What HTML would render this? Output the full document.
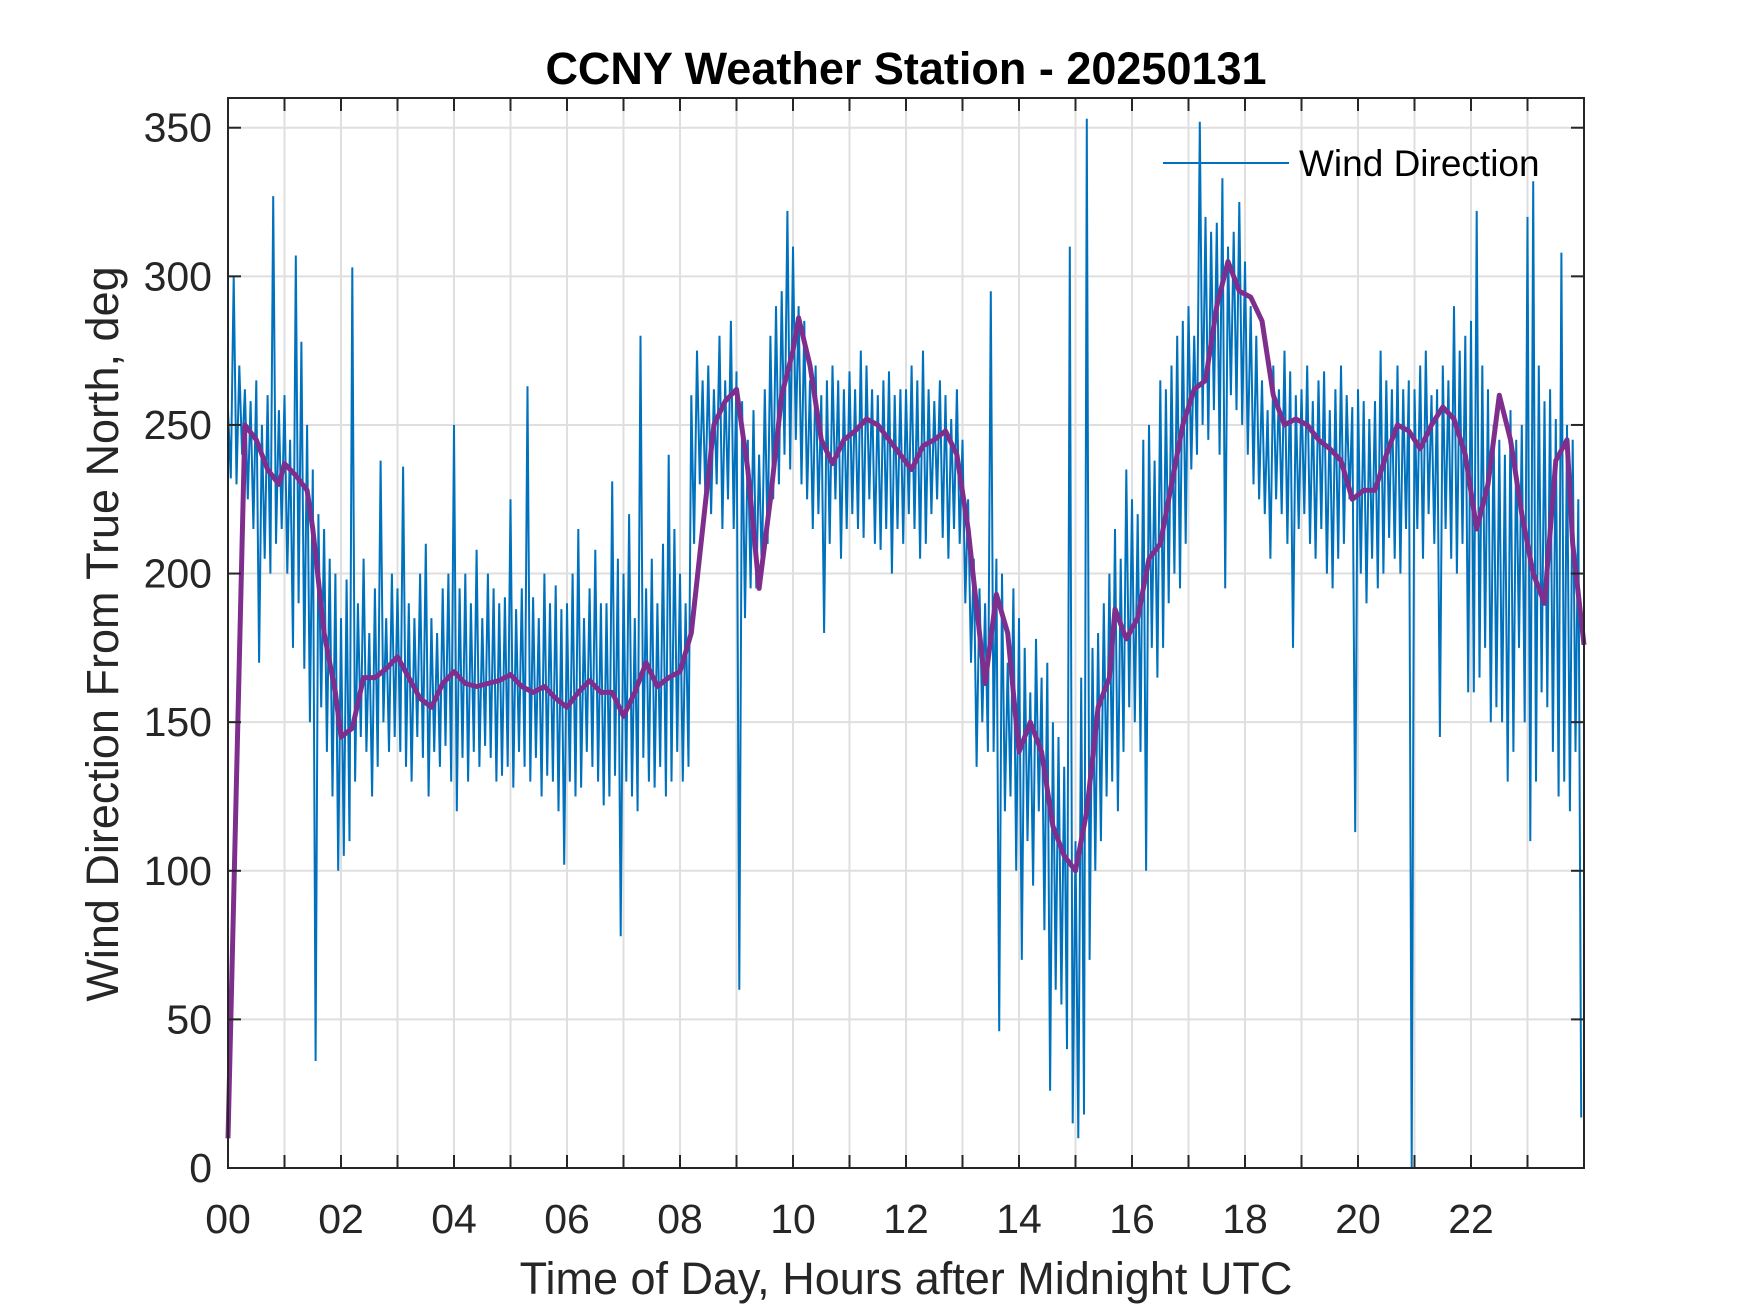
<!DOCTYPE html>
<html><head><meta charset="utf-8"><style>
html,body{margin:0;padding:0;background:#fff;}
svg{display:block;font-family:"Liberation Sans",Arial,sans-serif;}
</style></head><body>
<svg id="chart" width="1750" height="1313" viewBox="0 0 1750 1313" xmlns="http://www.w3.org/2000/svg">
<rect x="0" y="0" width="1750" height="1313" fill="#fff"/>
<g id="grid"></g>
<g id="series"></g>
<rect x="228" y="98" width="1356" height="1070" fill="none" stroke="#262626" stroke-width="2"/>
<g id="ticks"></g>
<text x="906" y="84" text-anchor="middle" font-size="45" font-weight="bold" fill="#000">CCNY Weather Station - 20250131</text>
<text x="906" y="1294" text-anchor="middle" font-size="45" fill="#262626">Time of Day, Hours after Midnight UTC</text>
<text transform="translate(118,634) rotate(-90)" text-anchor="middle" font-size="45" fill="#262626">Wind Direction From True North, deg</text>
<g>
<line x1="1163" y1="163" x2="1289" y2="163" stroke="#0072BD" stroke-width="2"/>
<text x="1299" y="176" font-size="37" fill="#000">Wind Direction</text>
</g>
</svg>
<script>
const blueHi=[255,300,270,262,258,265,250,260,327,255,
260,245,307,278,250,235,220,215,205,200,
185,198,303,190,205,180,195,238,185,200,
195,236,190,185,200,210,185,180,195,200,
250,195,200,190,208,185,200,195,190,192,
225,188,195,263,192,185,200,190,196,188,
190,200,215,185,195,208,190,190,231,205,
200,220,185,280,195,205,190,210,240,215,
200,190,260,275,265,270,262,280,265,285,
268,258,245,255,240,262,280,290,295,322,
310,290,285,265,270,260,265,270,265,262,
268,262,275,270,262,260,265,268,260,262,
262,270,265,275,262,258,265,260,252,262,
245,225,205,195,190,295,205,200,170,195,
185,175,160,178,165,170,150,145,135,310,
110,165,353,175,180,190,200,215,205,235,
225,220,245,250,238,265,262,270,280,285,
290,280,352,320,315,318,333,310,315,325,
305,290,280,265,255,270,262,275,268,260,
262,270,258,265,268,255,262,270,260,256,
262,258,252,258,275,265,262,270,262,265,
262,270,275,260,262,270,265,290,275,280,
285,322,270,262,250,245,240,255,245,250,
320,332,270,258,262,252,308,250,245,225];
const blueLo=[232,230,240,225,215,170,205,200,210,215,
200,175,190,168,150,36,155,140,125,100,
105,110,130,145,140,125,135,150,140,145,
140,135,130,145,138,125,140,135,142,130,
120,138,130,140,135,142,138,130,132,135,
128,140,135,130,138,125,132,130,120,102,
130,125,128,140,135,130,122,125,132,78,
130,125,120,138,130,128,135,125,130,140,
130,135,210,230,225,220,230,215,225,215,
60,185,195,195,200,210,225,230,240,235,
245,230,225,215,220,180,210,225,205,215,
220,215,212,225,210,208,215,200,215,210,
220,215,205,210,220,225,212,205,215,210,
190,170,135,150,140,140,46,120,125,100,
70,110,95,120,80,26,60,55,40,15,
10,18,70,100,110,125,130,120,140,155,
150,140,100,175,165,175,190,200,195,210,
235,240,250,245,255,240,195,260,255,250,
240,230,225,220,205,225,220,210,175,215,
220,210,205,215,200,195,205,210,225,113,
200,190,205,195,200,212,205,200,215,0,
215,205,220,210,145,215,205,200,210,160,
160,165,175,150,155,150,130,140,175,150,
110,130,160,155,140,125,130,120,140,17];
const meanHours=[0,0.3,0.5,0.7,0.9,1.0,1.2,1.4,1.5,1.7,1.9,2.0,2.2,2.4,2.6,2.8,3.0,3.2,3.4,3.6,3.8,4.0,4.2,4.4,4.6,4.8,5.0,5.2,5.4,5.6,5.8,6.0,6.2,6.4,6.6,6.8,7.0,7.2,7.4,7.6,7.8,8.0,8.2,8.4,8.6,8.8,9.0,9.2,9.4,9.6,9.8,10.0,10.1,10.3,10.5,10.7,10.9,11.1,11.3,11.5,11.7,11.9,12.1,12.3,12.5,12.7,12.9,13.1,13.3,13.4,13.6,13.8,14.0,14.2,14.4,14.6,14.8,15.0,15.2,15.4,15.6,15.7,15.9,16.1,16.3,16.5,16.7,16.9,17.1,17.3,17.5,17.7,17.9,18.1,18.3,18.5,18.7,18.9,19.1,19.3,19.5,19.7,19.9,20.1,20.3,20.5,20.7,20.9,21.1,21.3,21.5,21.7,21.9,22.1,22.3,22.5,22.7,22.9,23.1,23.3,23.5,23.7,23.8,24];
const meanValues=[10,250,245,235,230,237,233,228,215,180,160,145,148,165,165,168,172,165,158,155,163,167,163,162,163,164,166,162,160,162,158,155,160,164,160,160,152,160,170,162,165,167,180,215,250,258,262,235,195,225,260,275,286,270,245,237,245,248,252,250,245,240,235,243,245,248,240,215,180,163,193,180,140,150,140,115,105,100,120,155,165,188,178,185,205,210,230,250,262,265,290,305,295,293,285,260,250,252,250,245,242,238,225,228,228,240,250,248,242,250,256,252,240,215,230,260,245,220,200,190,238,245,210,176];
const xTickLabels=["00","02","04","06","08","10","12","14","16","18","20","22"];
const yTickValues=[0,50,100,150,200,250,300,350];

const X0=228,X1=1584,Y0=1168,Y1=98,XMAX=24,YMAX=360;
function xs(h){return X0+(h/XMAX)*(X1-X0);}
function ys(v){return Y0-(v/YMAX)*(Y0-Y1);}
const NS="http://www.w3.org/2000/svg";
function mk(tag,attrs,parent){const e=document.createElementNS(NS,tag);for(const k in attrs)e.setAttribute(k,attrs[k]);parent.appendChild(e);return e;}
const grid=document.getElementById('grid'),ticks=document.getElementById('ticks'),series=document.getElementById('series');
for(let h=1;h<XMAX;h++){
  const gl=mk('line',{x1:xs(h),x2:xs(h),y1:Y1,y2:Y0,stroke:'#dfdfdf','stroke-width':2},grid);
  
  
  const t1=mk('line',{x1:xs(h),x2:xs(h),y1:Y0,y2:Y0-13,stroke:'#262626','stroke-width':2},ticks);
  
  
  const t2=mk('line',{x1:xs(h),x2:xs(h),y1:Y1,y2:Y1+13,stroke:'#262626','stroke-width':2},ticks);
  
  
}
xTickLabels.forEach((lab,i)=>{
  const t=mk('text',{x:xs(i*2),y:1233,'text-anchor':'middle','font-size':41,fill:'#262626'},ticks);
  t.textContent=lab;
  
  
});
yTickValues.forEach(v=>{
  if(v>0&&v<YMAX){
    const gl=mk('line',{x1:X0,x2:X1,y1:ys(v),y2:ys(v),stroke:'#dfdfdf','stroke-width':2},grid);
    
    
  }
  const t1=mk('line',{x1:X0,x2:X0+13,y1:ys(v),y2:ys(v),stroke:'#262626','stroke-width':2},ticks);
  
  
  const t2=mk('line',{x1:X1,x2:X1-13,y1:ys(v),y2:ys(v),stroke:'#262626','stroke-width':2},ticks);
  
  
  const t=mk('text',{x:212,y:ys(v)+14,'text-anchor':'end','font-size':41,fill:'#262626'},ticks);
  t.textContent=String(v);
  
  
});
let d='';
for(let i=0;i<blueHi.length;i++){
  const h=i/10;
  d+=(i===0?'M':'L')+xs(h).toFixed(1)+','+ys(blueHi[i]).toFixed(1);
  d+='L'+xs(h+0.05).toFixed(1)+','+ys(blueLo[i]).toFixed(1);
}
const bl=mk('path',{d:d,fill:'none',stroke:'#0072BD','stroke-width':2,'stroke-linejoin':'miter'},series);


let dm='';
meanHours.forEach((h,i)=>{dm+=(i===0?'M':'L')+xs(h).toFixed(1)+','+ys(meanValues[i]).toFixed(1);});
const ml=mk('path',{d:dm,fill:'none',stroke:'#7E2F8E','stroke-width':5,'stroke-linejoin':'round'},series);


</script>
</body></html>
